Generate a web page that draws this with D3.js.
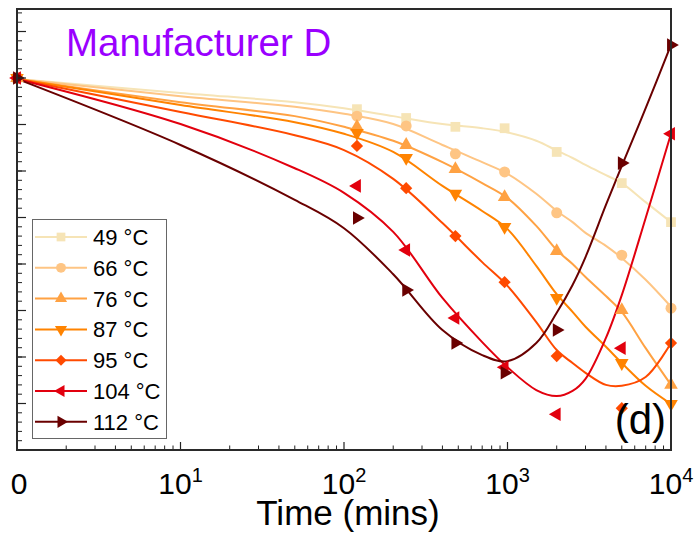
<!DOCTYPE html>
<html>
<head>
<meta charset="utf-8">
<script src="https://cdn.jsdelivr.net/npm/d3@7"></script>
<style>
  body { margin: 0; background: #fff; }
  svg { display: block; font-family: "Liberation Sans", Arial, sans-serif; }
</style>
</head>
<body>
<svg width="697" height="533"></svg>
<script>
// series labels and colours
var temps = ["49 °C", "66 °C", "76 °C", "87 °C", "95 °C", "104 °C", "112 °C"];
var colors = ["#f6e4b6", "#fec584", "#ffa243", "#ff8300", "#ff4a00", "#e2000e", "#6a0000"];

// measured points (time 0 is drawn at the "0" position, i.e. t = 1)
var markTimes = [1, 120, 240, 480, 960, 2000, 5000, 10000];
var mark49  = [8.0, 7.33, 7.14, 6.95, 6.92, 6.41, 5.74, 4.90];
var mark66  = [8.0, 7.18, 6.97, 6.37, 5.98, 5.10, 4.19, 3.05];
var mark76  = [8.0, 6.95, 6.56, 6.04, 5.44, 4.28, 3.01, 1.40];
var mark87  = [8.0, 6.82, 6.28, 5.51, 4.80, 3.27, 1.87, 0.99];
var mark95  = [8.0, 6.54, 5.63, 4.60, 3.61, 2.02, 0.90, 2.30];
var mark104 = [8.0, 5.68, 4.30, 2.84, 1.78, 0.77, 2.19, 6.80];
var mark112 = [8.0, 4.99, 3.44, 2.30, 1.66, 2.58, 6.17, 8.71];

// fitted curves
var fitTimes = [1, 10, 50, 100, 200, 400, 700, 1000, 1500, 2000, 2500, 3000, 4000, 5000, 7000, 10000];
var fit49  = [7.98, 7.68, 7.48, 7.35, 7.18, 7.01, 6.92, 6.83, 6.65, 6.44, 6.28, 6.13, 5.91, 5.74, 5.33, 4.90];
var fit66  = [7.98, 7.61, 7.38, 7.23, 7.01, 6.56, 6.19, 5.94, 5.51, 5.14, 4.90, 4.67, 4.39, 4.13, 3.66, 3.08];
var fit76  = [7.98, 7.48, 7.18, 6.95, 6.65, 6.19, 5.74, 5.42, 4.82, 4.30, 4.00, 3.72, 3.31, 2.97, 2.19, 1.40];
var fit87  = [7.98, 7.42, 7.05, 6.80, 6.41, 5.68, 5.14, 4.75, 3.96, 3.35, 2.97, 2.65, 2.22, 1.87, 1.38, 0.99];
var fit95  = [7.98, 7.27, 6.77, 6.45, 5.83, 4.88, 4.04, 3.53, 2.75, 2.15, 1.87, 1.66, 1.40, 1.38, 1.57, 2.30];
var fit104 = [7.98, 7.01, 6.06, 5.53, 4.69, 3.27, 2.32, 1.78, 1.29, 1.16, 1.27, 1.53, 2.41, 3.33, 4.99, 6.80];
var fit112 = [7.98, 6.56, 5.38, 4.77, 3.78, 2.58, 2.04, 1.91, 2.30, 2.95, 3.55, 4.15, 5.27, 6.11, 7.35, 8.71];

var xTickVals = [1, 10, 100, 1000, 10000];
var xTickExp = ["0", "1", "2", "3", "4"];

var marks = [mark49, mark66, mark76, mark87, mark95, mark104, mark112];
var fits = [fit49, fit66, fit76, fit87, fit95, fit104, fit112];

var svg = d3.select("svg");
var plotL = 17, plotR = 671, plotT = 9, plotB = 450;

var x = d3.scaleLog().domain([1, 10000]).range([plotL, plotR]);
var y = d3.scaleLinear().domain([0, 9.484]).range([plotB, plotT]);

// marker shapes: [symbol type, rotation, size]
var shapes = [
  [d3.symbolSquare, 0, 95],
  [d3.symbolCircle, 0, 95],
  [d3.symbolTriangle, 0, 80],
  [d3.symbolTriangle, 180, 80],
  [d3.symbolSquare, 45, 75],
  [d3.symbolTriangle, -90, 80],
  [d3.symbolTriangle, 90, 80]
];

var line = d3.line()
  .x(function(d) { return x(d[0]); })
  .y(function(d) { return y(d[1]); })
  .curve(d3.curveCatmullRom.alpha(0.5));

var g = svg.append("g");

fits.forEach(function(f, i) {
  g.append("path")
    .datum(fitTimes.map(function(t, j) { return [t, f[j]]; }))
    .attr("fill", "none")
    .attr("stroke", colors[i])
    .attr("stroke-width", 2)
    .attr("d", line);
});

marks.forEach(function(m, i) {
  var sym = d3.symbol().type(shapes[i][0]).size(shapes[i][2]);
  g.append("g").selectAll("path")
    .data(markTimes.map(function(t, j) { return [t, m[j]]; }))
    .enter().append("path")
      .attr("d", sym)
      .attr("fill", colors[i])
      .attr("transform", function(d) {
        return "translate(" + x(d[0]) + "," + y(d[1]) + ") rotate(" + shapes[i][1] + ")";
      });
});

// inward ticks on the bottom axis
var xMinor = [];
for (var dec = 1; dec < 10000; dec *= 10) {
  for (var k = 2; k < 10; k++) xMinor.push(dec * k);
}
var xAxis = svg.append("g").attr("transform", "translate(0," + plotB + ")");
xAxis.selectAll(".minor").data(xMinor).enter().append("line")
  .attr("x1", function(d) { return x(d); }).attr("x2", function(d) { return x(d); })
  .attr("y1", 0).attr("y2", -4.5)
  .attr("stroke", "#222").attr("stroke-width", 1);
xAxis.selectAll(".major").data(xTickVals).enter().append("line")
  .attr("x1", function(d) { return x(d); }).attr("x2", function(d) { return x(d); })
  .attr("y1", 0).attr("y2", -8)
  .attr("stroke", "#222").attr("stroke-width", 1.2);

var labels = svg.append("g").attr("font-size", 30).attr("fill", "#000");
xTickVals.forEach(function(v, i) {
  var t = labels.append("text")
    .attr("x", x(v) + (i === 0 ? 2 : 0))
    .attr("y", 494)
    .attr("text-anchor", "middle");
  if (i === 0) {
    t.text("0");
  } else {
    t.append("tspan").text("10");
    t.append("tspan").attr("dy", -12).attr("font-size", 20).text(xTickExp[i]);
  }
});

// inward ticks on the left axis
var yMinor = d3.range(0, 48).map(function(d) { return d * 0.2; });
var yMajor = d3.range(0, 10);
var yAxis = svg.append("g").attr("transform", "translate(" + plotL + ",0)");
yAxis.selectAll(".minor").data(yMinor).enter().append("line")
  .attr("y1", function(d) { return y(d); }).attr("y2", function(d) { return y(d); })
  .attr("x1", 0).attr("x2", 5)
  .attr("stroke", "#222").attr("stroke-width", 1);
yAxis.selectAll(".major").data(yMajor).enter().append("line")
  .attr("y1", function(d) { return y(d); }).attr("y2", function(d) { return y(d); })
  .attr("x1", 0).attr("x2", 9)
  .attr("stroke", "#222").attr("stroke-width", 1.2);

// frame
svg.append("rect")
  .attr("x", plotL).attr("y", plotT)
  .attr("width", plotR - plotL).attr("height", plotB - plotT)
  .attr("fill", "none").attr("stroke", "#2a2a2a").attr("stroke-width", 2);

svg.append("text")
  .attr("x", 348).attr("y", 525)
  .attr("text-anchor", "middle")
  .attr("font-size", 35)
  .text("Time (mins)");

svg.append("text")
  .attr("x", 66).attr("y", 56)
  .attr("font-size", 38.5)
  .attr("fill", "#9a00ff")
  .text("Manufacturer D");

svg.append("text")
  .attr("x", 666).attr("y", 434)
  .attr("text-anchor", "end")
  .attr("font-size", 42)
  .text("(d)");

// legend
var legend = svg.append("g");
legend.append("rect")
  .attr("x", 32.5).attr("y", 219.5).attr("width", 134).attr("height", 219)
  .attr("fill", "#fff").attr("stroke", "#666").attr("stroke-width", 1);

temps.forEach(function(name, i) {
  var cy = 237 + i * 30.8;
  var row = legend.append("g");
  row.append("line")
    .attr("x1", 35).attr("x2", 87).attr("y1", cy).attr("y2", cy)
    .attr("stroke", colors[i]).attr("stroke-width", 2);
  row.append("path")
    .attr("d", d3.symbol().type(shapes[i][0]).size(shapes[i][2] * 0.8))
    .attr("fill", colors[i])
    .attr("transform", "translate(61," + cy + ") rotate(" + shapes[i][1] + ")");
  row.append("text")
    .attr("x", 93).attr("y", cy + 8)
    .attr("font-size", 22)
    .text(name);
});
</script>
</body>
</html>
